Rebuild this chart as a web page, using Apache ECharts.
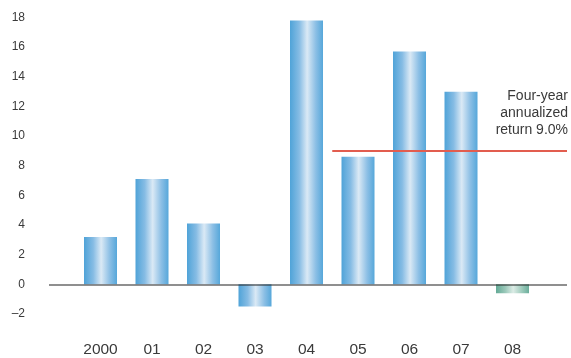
<!DOCTYPE html>
<html>
<head>
<meta charset="utf-8">
<script src="https://cdn.jsdelivr.net/npm/echarts@6/dist/echarts.min.js"></script>
<style>
  html, body { margin: 0; padding: 0; background: #fff; }
  #chart { width: 571px; height: 358px; }
</style>
</head>
<body>
<div id="chart"></div>
<script>
// Calendar-year returns (%), 2000 through 2008
const years = ['2000', '01', '02', '03', '04', '05', '06', '07', '08'];
const returns = [3.2, 7.1, 4.1, -1.5, 17.8, 8.6, 15.7, 13.0, -0.6];
// Four-year annualized return (%) and the year it is measured from
const annualizedReturn = 9.0;
const annualizedFrom = 4.5; // midway between '04 and '05
const yTicks = [-2, 0, 2, 4, 6, 8, 10, 12, 14, 16, 18];

const font = '"Liberation Sans", Arial, Helvetica, sans-serif';
const textColor = '#3a3a3a';
const xMin = -1;
const xMax = 9.058;

const blueBar = new echarts.graphic.LinearGradient(0, 0, 1, 0, [
  { offset: 0, color: '#4fa3d8' },
  { offset: 0.28, color: '#86bce4' },
  { offset: 0.52, color: '#dae9f5' },
  { offset: 0.78, color: '#8cbfe5' },
  { offset: 1, color: '#56a7da' }
]);
const greenBar = new echarts.graphic.LinearGradient(0, 0, 1, 0, [
  { offset: 0, color: '#62a995' },
  { offset: 0.28, color: '#9ac8b9' },
  { offset: 0.52, color: '#dcece6' },
  { offset: 0.78, color: '#9ecbbc' },
  { offset: 1, color: '#6aae9b' }
]);

const chart = echarts.init(document.getElementById('chart'), null, { renderer: 'canvas' });
chart.setOption({
  animation: false,
  backgroundColor: '#fff',
  grid: { left: 49, right: 4, top: 17.5, height: 300, containLabel: false },
  xAxis: {
    type: 'value',
    min: xMin,
    max: xMax,
    interval: 1,
    splitLine: { show: false },
    axisLine: { show: false },
    axisTick: { show: false },
    axisLabel: {
      margin: 28,
      fontFamily: font,
      fontSize: 15.5,
      color: textColor,
      showMaxLabel: false,
      formatter: v => (v >= 0 && v < years.length ? years[v] : '')
    }
  },
  yAxis: {
    type: 'value',
    min: yTicks[0],
    max: yTicks[yTicks.length - 1],
    interval: 2,
    splitLine: { show: false },
    axisLine: { show: false },
    axisTick: { show: false },
    axisLabel: {
      margin: 24,
      fontFamily: font,
      fontSize: 12,
      color: textColor,
      padding: [6, 0, 0, 0],
      formatter: v => (v < 0 ? '\u2013' + Math.abs(v) : String(v))
    }
  },
  series: [{
    type: 'bar',
    barWidth: 33,
    data: returns.map((r, i) => [i, r]),
    itemStyle: {
      color: p => (p.dataIndex === years.length - 1 ? greenBar : blueBar)
    },
    markLine: {
      silent: true,
      symbol: 'none',
      animation: false,
      data: [
        [
          { coord: [xMin, 0], lineStyle: { color: 'rgba(40,40,40,0.52)', width: 2, type: 'solid' }, label: { show: false } },
          { coord: [xMax, 0] }
        ],
        [
          {
            coord: [annualizedFrom, annualizedReturn],
            lineStyle: { color: '#e25d4f', width: 2.2, type: 'solid' },
            label: {
              show: true,
              position: 'insideEndTop',
              distance: [-1, 12],
              align: 'right',
              fontFamily: font,
              fontSize: 14,
              lineHeight: 17,
              color: textColor,
              formatter: 'Four-year\nannualized\nreturn ' + annualizedReturn.toFixed(1) + '%'
            }
          },
          { coord: [xMax, annualizedReturn] }
        ]
      ]
    }
  }]
});
</script>
</body>
</html>
